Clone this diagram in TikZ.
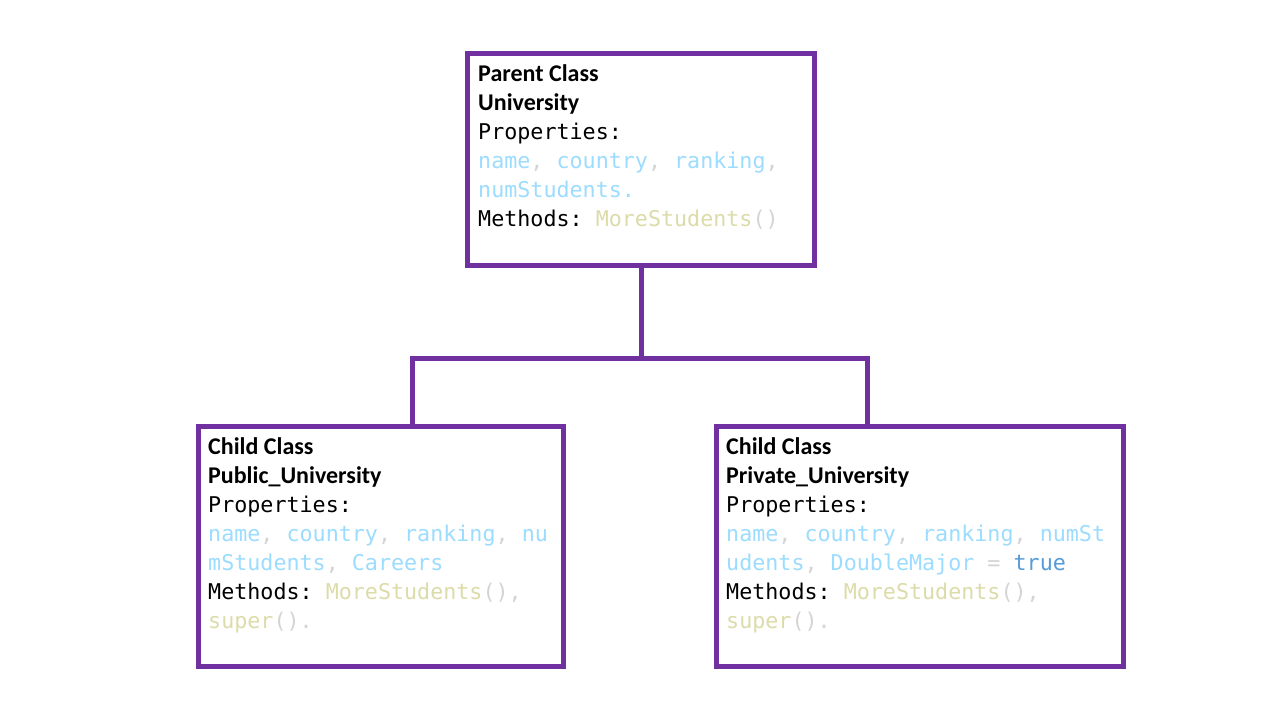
\documentclass[tikz,border=0pt]{standalone}
\usepackage{fontspec}
\setmainfont{Carlito}
\setmonofont{DejaVu Sans Mono}
\usetikzlibrary{positioning}
\definecolor{umlpurple}{HTML}{7030A0}
\definecolor{propblue}{HTML}{9CDCFE}
\definecolor{punctgray}{HTML}{D4D4D4}
\definecolor{methyellow}{HTML}{DCDCAA}
\definecolor{kwblue}{HTML}{569CD6}
\newcommand\prop[1]{\textcolor{propblue}{#1}}
\newcommand\pun[1]{\textcolor{punctgray}{#1}}
\newcommand\meth[1]{\textcolor{methyellow}{#1}}
\newcommand\kw[1]{\textcolor{kwblue}{#1}}
\newcommand\head[1]{{\rmfamily\bfseries\fontsize{24}{29}\selectfont #1}}
\tikzset{
  classbox/.style={draw=umlpurple, line width=5pt, rectangle, inner sep=0pt, anchor=north west},
  classtext/.style={anchor=north west, inner sep=0pt, align=left,
    font=\ttfamily\fontsize{21.7}{29}\selectfont},
  link/.style={draw=umlpurple, line width=5pt},
}

\begin{document}
\begin{tikzpicture}[x=1pt, y=-1pt]
  \fill[white] (0,0) rectangle (1280,720);
  \useasboundingbox (0,0) rectangle (1280,720);

  % class boxes
  \node[classbox, minimum width=347pt, minimum height=212pt] (univ) at (465,51) {};
  \node[classbox, minimum width=365pt, minimum height=240pt] (pub) at (196,424) {};
  \node[classbox, minimum width=407pt, minimum height=240pt] (priv) at (714,424) {};

  % class contents
  \node[classtext] (univtext) at ([shift={(13,13.5)}]univ.north west) {%
    \head{Parent Class}\\
    \head{University}\\
    Properties:\\
    \prop{name}\pun{,} \prop{country}\pun{,} \prop{ranking}\pun{,}\\
    \prop{numStudents.}\\
    Methods: \meth{MoreStudents}\pun{()}};
  \node[classtext] (pubtext) at ([shift={(12,13.5)}]pub.north west) {%
    \head{Child Class}\\
    \head{Public\_University}\\
    Properties:\\
    \prop{name}\pun{,} \prop{country}\pun{,} \prop{ranking}\pun{,} \prop{nu}\\
    \prop{mStudents}\pun{,} \prop{Careers}\\
    Methods: \meth{MoreStudents}\pun{(),}\\
    \meth{super}\pun{().}};
  \node[classtext] (privtext) at ([shift={(12,13.5)}]priv.north west) {%
    \head{Child Class}\\
    \head{Private\_University}\\
    Properties:\\
    \prop{name}\pun{,} \prop{country}\pun{,} \prop{ranking}\pun{,} \prop{numSt}\\
    \prop{udents}\pun{,} \prop{DoubleMajor} \pun{=} \kw{true}\\
    Methods: \meth{MoreStudents}\pun{(),}\\
    \meth{super}\pun{().}};

  % inheritance links
  \coordinate (busl) at (412,358);
  \coordinate (busr) at (867,358);
  \draw[link] (univ.south) -- (univ.south |- busl);
  \draw[link] (busl |- pub.north) -- (busl) -- (busr) -- (busr |- priv.north);
\end{tikzpicture}
\end{document}
